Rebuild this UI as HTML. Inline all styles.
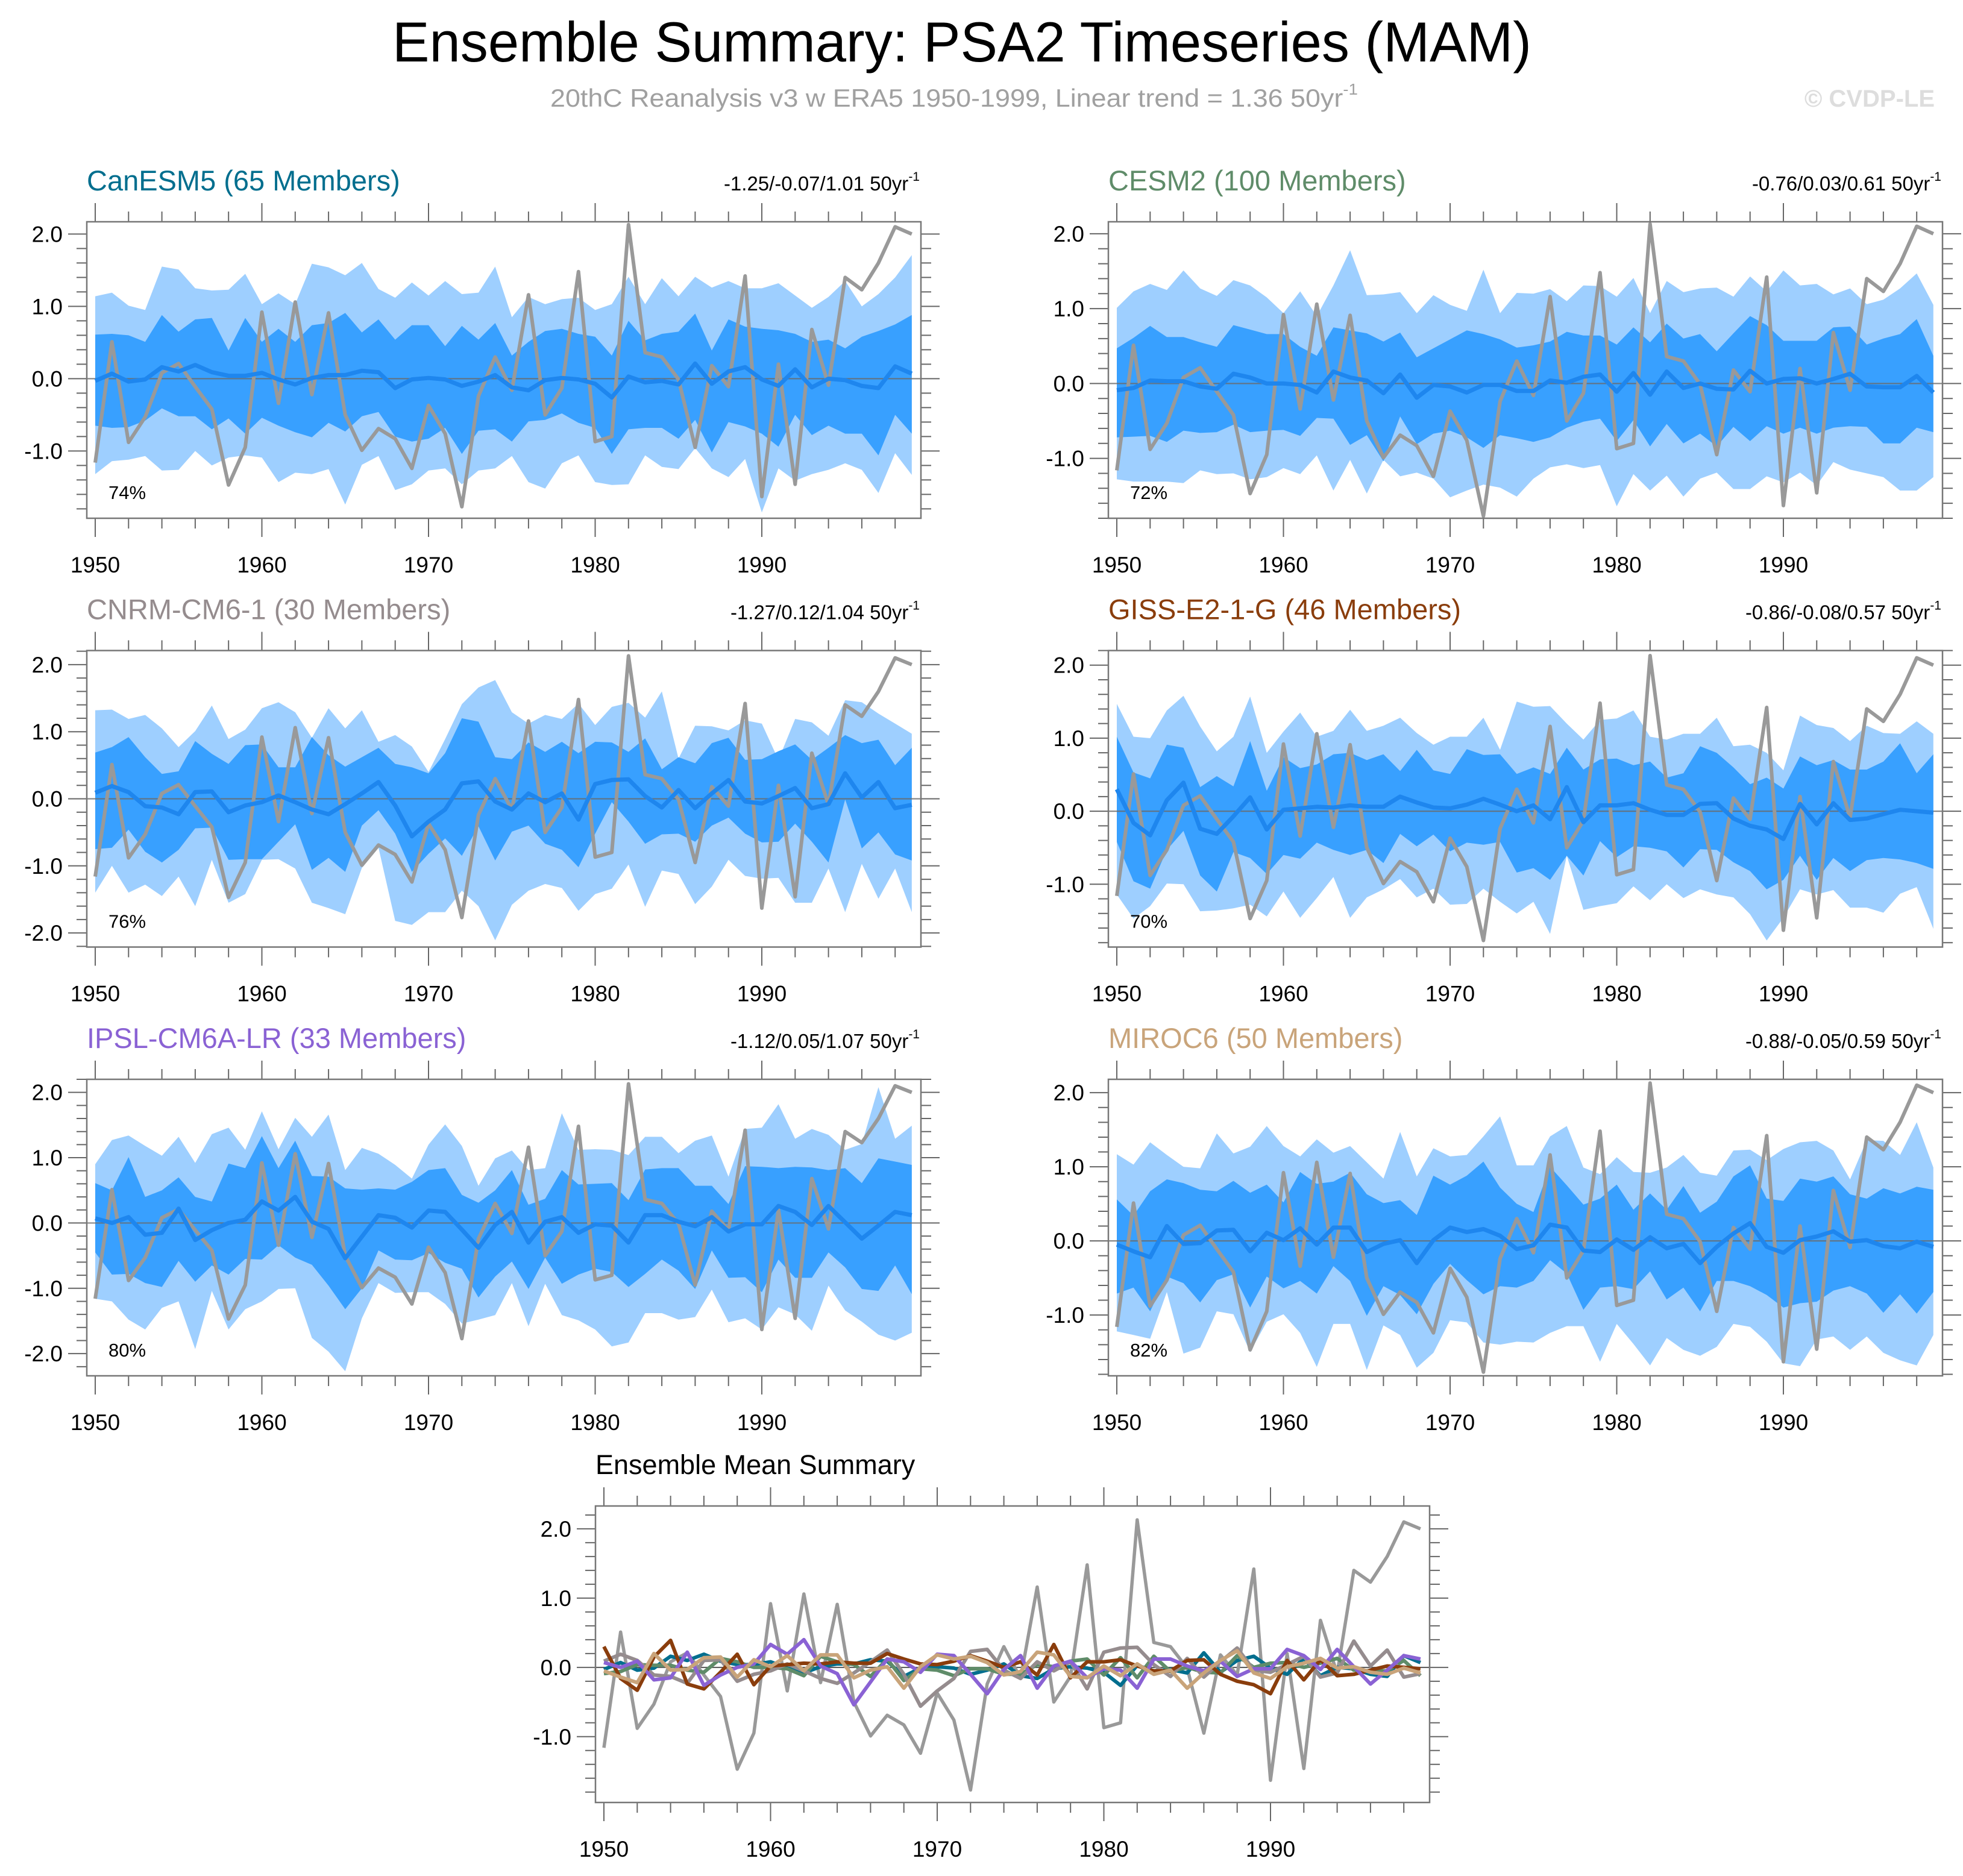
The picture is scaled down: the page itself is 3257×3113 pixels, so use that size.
<!DOCTYPE html>
<html><head><meta charset="utf-8"><title>Ensemble Summary: PSA2 Timeseries (MAM)</title>
<style>
html,body{margin:0;padding:0;background:#fff;}
svg{display:block;font-family:"Liberation Sans",Arial,sans-serif;}
</style></head>
<body>
<svg id="chart" xmlns="http://www.w3.org/2000/svg" width="3257" height="3113" viewBox="0 0 3257 3113">
<rect x="0" y="0" width="3257" height="3113" fill="#fff"/>
<text x="1596" y="102" font-size="94" text-anchor="middle" textLength="1890" lengthAdjust="spacingAndGlyphs" fill="#000">Ensemble Summary: PSA2 Timeseries (MAM)</text>
<text x="913" y="177" font-size="42" fill="#a0a0a0" textLength="1340" lengthAdjust="spacingAndGlyphs">20thC Reanalysis v3 w ERA5 1950-1999, Linear trend = 1.36 50yr<tspan font-size="26" dy="-20">-1</tspan></text>
<text x="3210" y="177" font-size="40" font-weight="bold" fill="#dddddd" text-anchor="end">© CVDP-LE</text>
<g id="panels"></g>
</svg>
<script>
const years = Array.from({length:50},(_, i)=>1950+i);
const obs = [-1.16,0.51,-0.88,-0.53,0.08,0.21,-0.11,-0.42,-1.47,-0.95,0.92,-0.34,1.06,-0.22,0.91,-0.50,-0.99,-0.69,-0.83,-1.24,-0.37,-0.76,-1.77,-0.24,0.30,-0.16,1.16,-0.50,-0.13,1.48,-0.87,-0.80,2.13,0.36,0.30,-0.01,-0.95,0.18,-0.11,1.42,-1.63,0.20,-1.46,0.68,-0.09,1.40,1.23,1.60,2.10,2.00];

// CanESM5
const canHi90 = [1.14,1.19,1.01,0.95,1.55,1.51,1.25,1.22,1.23,1.45,1.03,1.18,1.03,1.59,1.54,1.43,1.60,1.24,1.12,1.33,1.15,1.35,1.17,1.19,1.55,0.85,1.13,1.03,1.10,1.12,0.95,1.03,1.41,1.03,1.39,1.14,1.41,1.26,1.35,1.25,1.25,1.32,1.15,0.98,1.13,1.35,1.00,1.17,1.40,1.71];
const canHi75 = [0.61,0.62,0.60,0.51,0.88,0.65,0.82,0.84,0.39,0.84,0.51,0.69,0.51,0.74,0.77,0.91,0.64,0.82,0.54,0.74,0.74,0.45,0.73,0.54,0.77,0.32,0.51,0.66,0.69,0.62,0.58,0.32,0.80,0.53,0.62,0.65,0.90,0.39,0.82,0.72,0.69,0.67,0.62,0.51,0.54,0.42,0.58,0.66,0.75,0.88];
const canMean = [-0.03,0.07,-0.04,-0.01,0.16,0.10,0.19,0.09,0.04,0.04,0.08,-0.01,-0.08,0.01,0.05,0.05,0.11,0.09,-0.13,-0.01,0.01,-0.01,-0.10,-0.04,0.05,-0.12,-0.16,-0.02,0.01,-0.01,-0.07,-0.26,0.03,-0.05,-0.03,-0.08,0.21,-0.07,0.10,0.16,-0.01,-0.10,0.13,-0.12,0.00,-0.02,-0.10,-0.13,0.17,0.07];
const canLo25 = [-0.65,-0.68,-0.67,-0.58,-0.41,-0.52,-0.52,-0.70,-0.55,-0.76,-0.54,-0.65,-0.74,-0.81,-0.61,-0.73,-0.52,-0.46,-0.80,-0.87,-0.83,-0.68,-1.04,-0.72,-0.70,-0.87,-0.59,-0.57,-0.48,-0.61,-0.68,-1.04,-0.70,-0.68,-0.68,-0.83,-0.57,-1.02,-0.60,-0.66,-0.76,-0.94,-0.50,-0.78,-0.65,-0.76,-0.76,-1.06,-0.50,-0.76];
const canLo10 = [-1.32,-1.14,-1.12,-1.07,-1.27,-1.26,-1.00,-1.20,-1.09,-1.06,-1.09,-1.43,-1.30,-1.32,-1.25,-1.74,-1.19,-1.07,-1.54,-1.46,-1.27,-1.24,-1.46,-1.27,-1.24,-1.07,-1.43,-1.52,-1.17,-1.06,-1.43,-1.47,-1.46,-1.06,-1.22,-1.25,-0.96,-1.24,-1.36,-1.11,-1.85,-1.24,-1.41,-1.32,-1.26,-1.17,-1.26,-1.58,-1.03,-1.33];

// CESM2
const cesmHi90 = [1.01,1.23,1.33,1.25,1.51,1.27,1.17,1.38,1.31,1.15,0.94,1.23,0.90,1.31,1.78,1.18,1.19,1.22,0.94,1.18,1.05,0.97,1.52,0.94,1.21,1.20,1.26,1.10,1.31,1.30,1.16,1.41,0.94,1.37,1.22,1.27,1.28,1.16,1.43,1.23,1.51,1.31,1.33,1.19,1.27,1.06,1.12,1.27,1.47,1.05];
const cesmHi75 = [0.47,0.61,0.77,0.62,0.62,0.55,0.49,0.78,0.72,0.66,0.66,0.49,0.37,0.75,0.71,0.67,0.56,0.68,0.35,0.47,0.59,0.71,0.66,0.59,0.48,0.51,0.56,0.69,0.64,0.64,0.52,0.75,0.55,0.80,0.60,0.66,0.43,0.67,0.90,0.78,0.57,0.57,0.57,0.75,0.76,0.52,0.60,0.66,0.86,0.37];
const cesmMean = [-0.09,-0.06,0.04,0.03,0.03,-0.04,-0.07,0.13,0.08,0.00,0.00,-0.02,-0.12,0.16,0.08,0.04,-0.13,0.12,-0.19,-0.02,-0.04,-0.12,-0.02,-0.02,-0.10,-0.10,0.04,0.01,0.09,0.12,-0.11,0.14,-0.15,0.16,-0.06,0.00,-0.07,-0.08,0.17,0.00,0.06,0.07,0.00,0.06,0.13,-0.04,-0.05,-0.05,0.10,-0.12];
const cesmLo25 = [-0.72,-0.71,-0.70,-0.78,-0.63,-0.66,-0.65,-0.55,-0.65,-0.63,-0.62,-0.70,-0.46,-0.47,-0.82,-0.69,-1.04,-0.44,-0.81,-0.67,-0.63,-0.72,-0.86,-0.69,-0.73,-0.78,-0.72,-0.59,-0.51,-0.47,-0.77,-0.49,-0.84,-0.54,-0.80,-0.67,-0.84,-0.58,-0.77,-0.57,-0.67,-0.59,-0.67,-0.59,-0.57,-0.58,-0.80,-0.80,-0.59,-0.65];
const cesmLo10 = [-1.28,-1.31,-1.31,-1.31,-1.33,-1.16,-1.21,-1.20,-1.28,-1.25,-1.13,-1.21,-0.96,-1.43,-1.02,-1.47,-1.02,-1.24,-1.19,-1.27,-1.52,-1.43,-1.35,-1.39,-1.51,-1.27,-1.12,-1.08,-1.13,-1.09,-1.64,-1.21,-1.43,-1.23,-1.51,-1.27,-1.19,-1.41,-1.41,-1.24,-1.32,-1.19,-1.36,-1.05,-1.15,-1.20,-1.25,-1.43,-1.43,-1.25];

// CNRM-CM6-1
const cnrmHi90 = [1.32,1.33,1.19,1.25,1.05,0.77,1.01,1.39,0.89,1.03,1.35,1.44,1.29,0.91,1.35,1.05,1.32,0.85,0.95,0.78,0.40,0.89,1.41,1.66,1.77,1.29,1.12,1.25,1.19,1.42,1.10,1.37,1.43,1.21,1.60,0.60,1.09,1.08,1.02,1.17,1.12,0.58,1.19,1.14,0.94,1.47,1.44,1.27,1.12,0.97];
const cnrmHi75 = [0.69,0.77,0.92,0.62,0.37,0.41,0.86,0.67,0.52,0.80,0.81,0.47,0.47,0.92,0.65,0.48,0.62,0.76,0.52,0.47,0.38,0.68,1.20,1.15,0.62,0.59,0.84,0.70,0.85,0.68,0.85,0.84,0.70,0.90,0.44,0.62,0.53,0.83,0.91,0.58,0.59,0.71,0.81,0.58,0.76,0.95,0.83,0.88,0.50,0.76];
const cnrmMean = [0.09,0.19,0.10,-0.11,-0.13,-0.23,0.10,0.11,-0.20,-0.10,-0.05,0.05,-0.05,-0.16,-0.23,-0.08,0.08,0.25,-0.10,-0.56,-0.34,-0.16,0.23,0.26,-0.04,-0.16,0.08,-0.05,0.08,-0.31,0.22,0.28,0.29,0.04,-0.13,0.13,-0.14,0.08,0.28,-0.04,-0.07,0.04,0.16,-0.14,-0.08,0.38,0.02,0.25,-0.14,-0.09];
const cnrmLo25 = [-0.75,-0.73,-0.46,-0.79,-0.95,-0.76,-0.44,-0.43,-0.91,-0.90,-0.90,-0.64,-0.38,-1.06,-0.88,-1.09,-0.40,-0.17,-0.52,-1.09,-0.82,-0.59,-0.85,-0.41,-0.92,-0.49,-0.40,-0.67,-0.76,-1.02,-0.52,-0.05,-0.34,-0.67,-0.53,-0.52,-0.64,-0.40,-0.28,-0.52,-0.65,-0.64,-0.37,-0.64,-0.95,-0.01,-0.74,-0.50,-0.83,-0.92];
const cnrmLo10 = [-1.40,-1.00,-1.40,-1.28,-1.45,-1.16,-1.60,-0.91,-1.55,-1.42,-0.91,-0.90,-1.04,-1.55,-1.63,-1.72,-1.03,-0.73,-1.82,-1.88,-1.69,-1.69,-1.37,-1.60,-2.11,-1.58,-1.37,-1.27,-1.33,-1.67,-1.42,-1.34,-0.98,-1.61,-1.07,-1.12,-1.57,-1.31,-0.91,-1.15,-1.19,-1.18,-1.55,-1.55,-1.04,-1.69,-0.97,-1.49,-1.04,-1.69];

// GISS-E2-1-G
const gissHi90 = [1.47,1.02,1.00,1.38,1.58,1.16,0.82,1.02,1.57,0.80,1.09,1.35,1.02,1.10,1.39,1.10,1.17,1.28,1.07,0.91,1.02,1.02,1.28,0.84,1.50,1.43,1.44,1.20,0.98,1.25,1.27,1.38,1.02,0.98,1.06,1.06,1.28,0.89,0.91,0.80,0.56,1.31,1.18,1.14,0.96,1.17,1.07,1.06,1.23,1.06];
const gissHi75 = [1.02,0.53,0.45,0.91,0.87,0.33,0.48,0.34,0.96,0.28,0.74,0.59,0.64,0.78,0.80,0.70,0.78,0.55,0.84,0.56,0.51,0.85,0.77,0.78,0.51,0.60,0.51,0.87,0.57,0.71,0.72,0.63,0.68,0.46,0.52,0.89,0.80,0.60,0.37,0.46,0.31,0.75,0.63,0.70,0.57,0.57,0.68,0.93,0.52,0.78];
const gissMean = [0.30,-0.16,-0.33,0.15,0.39,-0.24,-0.31,-0.07,0.19,-0.25,0.02,0.04,0.06,0.05,0.08,0.06,0.06,0.20,0.12,0.05,0.04,0.09,0.17,0.09,0.00,0.08,-0.11,0.33,-0.15,0.08,0.08,0.11,0.02,-0.05,-0.05,0.10,0.11,-0.10,-0.20,-0.25,-0.38,0.10,-0.18,0.11,-0.12,-0.10,-0.04,0.02,0.00,-0.02];
const gissLo25 = [-0.42,-0.96,-1.06,-0.53,-0.27,-0.88,-1.10,-0.56,-0.64,-0.86,-0.60,-0.65,-0.43,-0.53,-0.60,-0.53,-0.71,-0.31,-0.48,-0.32,-0.55,-0.43,-0.46,-0.42,-0.84,-0.78,-0.94,-0.61,-0.88,-0.41,-0.63,-0.48,-0.50,-0.55,-0.77,-0.52,-0.53,-0.70,-0.82,-1.07,-0.94,-0.61,-0.94,-0.64,-0.82,-0.67,-0.64,-0.66,-0.71,-0.79];
const gissLo10 = [-1.14,-1.47,-1.30,-0.99,-1.00,-1.37,-1.36,-1.33,-1.28,-1.44,-1.10,-1.46,-1.19,-0.90,-1.46,-1.18,-1.07,-0.93,-1.18,-1.06,-1.28,-1.27,-1.06,-1.24,-1.40,-1.24,-1.68,-0.61,-1.35,-1.30,-1.26,-1.03,-1.22,-1.00,-1.19,-1.07,-1.14,-1.18,-1.41,-1.77,-1.46,-1.07,-1.14,-1.08,-1.32,-1.32,-1.39,-1.13,-1.04,-1.61];

// IPSL-CM6A-LR
const ipslHi90 = [0.90,1.27,1.34,1.18,1.03,1.32,0.92,1.36,1.46,1.12,1.71,1.13,1.61,1.32,1.66,0.81,1.15,1.06,0.89,0.68,1.20,1.51,1.18,0.57,0.99,1.11,0.81,0.84,1.68,1.12,1.13,1.12,1.04,1.32,1.32,1.07,1.26,1.34,0.71,1.44,1.46,1.82,1.29,1.44,1.35,1.12,1.21,2.08,1.29,1.49];
const ipslHi75 = [0.61,0.50,1.01,0.40,0.50,0.70,0.40,0.33,0.91,0.84,1.33,0.84,1.26,0.72,0.71,0.53,0.51,0.53,0.51,0.63,0.81,0.84,0.43,0.31,0.50,0.81,0.28,0.37,0.81,0.59,0.60,0.61,0.35,0.82,0.84,0.84,0.57,0.57,0.29,0.87,0.86,0.84,0.86,0.85,0.81,0.84,0.61,0.99,0.94,0.89];
const ipslMean = [0.07,0.00,0.09,-0.18,-0.15,0.22,-0.26,-0.11,0.00,0.05,0.33,0.19,0.40,0.02,-0.09,-0.54,-0.21,0.12,0.08,-0.07,0.19,0.17,-0.10,-0.38,-0.03,0.17,-0.30,0.02,0.09,-0.15,-0.02,-0.04,-0.30,0.12,0.12,0.02,-0.05,0.09,-0.13,-0.02,-0.02,0.26,0.17,-0.03,0.26,0.01,-0.24,-0.04,0.17,0.12];
const ipslLo25 = [-0.45,-0.79,-0.78,-0.92,-0.98,-0.58,-0.90,-0.65,-0.79,-0.55,-0.56,-0.34,-0.53,-0.64,-0.96,-1.32,-1.00,-0.42,-0.56,-0.57,-0.46,-0.61,-0.70,-1.14,-0.82,-0.59,-1.01,-0.53,-0.93,-0.79,-0.70,-0.75,-0.98,-0.78,-0.56,-0.73,-1.01,-0.42,-0.84,-0.83,-1.06,-0.56,-0.84,-0.84,-0.45,-0.68,-1.01,-1.04,-0.65,-1.09];
const ipslLo10 = [-1.16,-1.20,-1.48,-1.63,-1.30,-1.20,-1.93,-1.04,-1.63,-1.32,-1.20,-1.01,-1.00,-1.76,-1.97,-2.27,-1.46,-0.92,-1.07,-1.06,-1.06,-1.24,-1.54,-1.48,-1.41,-0.92,-1.58,-0.93,-1.41,-1.49,-1.63,-1.89,-1.83,-1.38,-1.38,-1.48,-1.44,-1.02,-1.52,-1.46,-1.63,-1.29,-1.40,-1.65,-0.96,-1.34,-1.51,-1.71,-1.80,-1.68];

// MIROC6
const mirocHi90 = [1.17,1.03,1.33,1.16,1.00,0.98,1.45,1.18,1.27,1.55,1.28,1.14,1.37,1.19,1.28,1.06,0.84,1.47,0.87,1.25,1.14,1.16,1.41,1.68,1.02,1.02,1.41,1.55,0.99,0.90,1.13,0.93,0.92,0.99,1.16,0.92,0.88,1.22,1.23,1.09,1.24,1.33,1.35,1.22,0.83,1.36,1.35,1.16,1.60,0.99];
const mirocHi75 = [0.56,0.34,0.67,0.83,0.78,0.69,0.67,0.81,0.65,0.76,0.52,0.93,0.77,0.80,0.92,0.63,0.51,0.55,0.35,0.88,0.76,0.88,1.07,0.72,0.50,0.39,1.00,0.75,0.49,0.57,0.76,0.42,0.64,0.42,0.74,0.38,0.53,0.87,1.02,0.57,0.54,0.84,0.80,0.87,0.63,0.57,0.71,0.64,0.73,0.69];
const mirocMean = [-0.05,-0.14,-0.22,0.20,-0.04,-0.03,0.14,0.15,-0.14,0.11,0.01,0.17,-0.05,0.18,0.18,-0.15,-0.04,0.01,-0.30,0.01,0.18,0.12,0.16,0.07,-0.11,-0.06,0.22,0.18,-0.13,-0.15,0.02,-0.12,0.05,-0.10,-0.04,-0.30,-0.08,0.10,0.24,-0.08,-0.16,0.01,0.06,0.13,-0.01,0.01,-0.07,-0.10,-0.01,-0.08];
const mirocLo25 = [-0.71,-0.63,-0.95,-0.48,-0.57,-0.83,-0.53,-0.45,-0.90,-0.48,-0.64,-0.54,-0.71,-0.34,-0.54,-1.01,-0.61,-0.73,-0.99,-0.58,-0.31,-0.53,-0.72,-0.61,-0.63,-0.54,-0.26,-0.44,-0.93,-0.63,-0.61,-0.65,-0.41,-0.79,-0.63,-0.95,-0.54,-0.54,-0.61,-0.73,-0.90,-0.84,-0.82,-0.67,-0.61,-0.71,-0.97,-0.72,-0.98,-0.69];
const mirocLo10 = [-1.22,-1.27,-1.32,-0.69,-1.52,-1.44,-0.95,-0.99,-1.50,-1.09,-0.99,-1.24,-1.70,-1.12,-1.12,-1.74,-1.14,-1.27,-1.71,-1.51,-1.07,-1.10,-1.37,-1.40,-1.36,-1.37,-1.24,-1.15,-1.15,-1.63,-1.12,-1.39,-1.68,-1.31,-1.47,-1.55,-1.43,-1.12,-1.16,-1.36,-1.65,-1.69,-1.33,-1.29,-1.47,-1.29,-1.51,-1.61,-1.68,-1.27];

const modelNames = ["CanESM5 (65 Members)","CESM2 (100 Members)","CNRM-CM6-1 (30 Members)","GISS-E2-1-G (46 Members)","IPSL-CM6A-LR (33 Members)","MIROC6 (50 Members)"];
const trendLabels = ["-1.25/-0.07/1.01 50yr","-0.76/0.03/0.61 50yr","-1.27/0.12/1.04 50yr","-0.86/-0.08/0.57 50yr","-1.12/0.05/1.07 50yr","-0.88/-0.05/0.59 50yr"];
const pctLabels = ["74%","72%","76%","70%","80%","82%"];
const modelColors = ["#006e8e","#5f8c69","#958c8e","#8a3d0c","#8a62d4","#c9a47a"];
const yRanges = [[-1.93,2.17],[-1.80,2.16],[-2.21,2.21],[-1.86,2.2],[-2.34,2.2],[-1.82,2.18]];
const summaryRange = [-1.95,2.33];

const SVGNS = "http://www.w3.org/2000/svg";
const root = document.getElementById("panels");
function mk(tag, attrs, parent){
  const e = document.createElementNS(SVGNS, tag);
  for (const k in attrs) e.setAttribute(k, attrs[k]);
  (parent||root).appendChild(e);
  return e;
}
const BW = 1384, BH = 492, XOFF = 14, YSTEP = 27.65;

function makeAxes(g, x0, y0, ymin, ymax){
  const xs = yr => x0 + XOFF + (yr-1950)*YSTEP;
  const ys = v => y0 + (ymax - v)/(ymax - ymin)*BH;
  return {xs, ys};
}

function drawFrame(g, x0, y0, ymin, ymax, ax){
  for (let yr=1950; yr<=1998; yr+=2){
    const major = (yr%10===0);
    const L = major?31:17;
    const x = ax.xs(yr);
    const t1 = mk("line",{x1:x,x2:x,y1:y0,y2:y0-L,stroke:"#666","stroke-width":2},g);
    
    
    const t2 = mk("line",{x1:x,x2:x,y1:y0+BH,y2:y0+BH+L,stroke:"#666","stroke-width":2},g);
    
    
    if (major){
      const lb = mk("text",{x:x,y:y0+BH+90,"font-size":37,"text-anchor":"middle",fill:"#000"},g);
      
      
      lb.textContent = String(yr);
    }
  }
  const k0 = Math.ceil(ymin/0.2 - 1e-6), k1 = Math.floor(ymax/0.2 + 1e-6);
  for (let k=k0; k<=k1; k++){
    const v = k*0.2;
    const major = (k%5===0);
    const L = major?31:17;
    const y = ax.ys(v);
    const a = mk("line",{x1:x0,x2:x0-L,y1:y,y2:y,stroke:"#666","stroke-width":2},g);
    
    
    const b = mk("line",{x1:x0+BW,x2:x0+BW+L,y1:y,y2:y,stroke:"#666","stroke-width":2},g);
    
    
    if (major){
      const lb = mk("text",{x:x0-40,y:y+13,"font-size":37,"text-anchor":"end",fill:"#000"},g);
      
      
      lb.textContent = (k/5).toFixed(1);
    }
  }
  const fr = mk("rect",{x:x0,y:y0,width:BW,height:BH,fill:"none",stroke:"#777","stroke-width":2.5},g);
  
  
}

function linePath(arr, ax){
  return arr.map((v,i)=>(i?"L":"M")+ax.xs(years[i]).toFixed(1)+","+ax.ys(v).toFixed(1)).join(" ");
}
function bandPath(hi, lo, ax){
  let d = hi.map((v,i)=>(i?"L":"M")+ax.xs(years[i]).toFixed(1)+","+ax.ys(v).toFixed(1)).join(" ");
  for (let i=lo.length-1;i>=0;i--) d += " L"+ax.xs(years[i]).toFixed(1)+","+ax.ys(lo[i]).toFixed(1);
  return d+" Z";
}

const bands = [
  [canHi90,canHi75,canMean,canLo25,canLo10],
  [cesmHi90,cesmHi75,cesmMean,cesmLo25,cesmLo10],
  [cnrmHi90,cnrmHi75,cnrmMean,cnrmLo25,cnrmLo10],
  [gissHi90,gissHi75,gissMean,gissLo25,gissLo10],
  [ipslHi90,ipslHi75,ipslMean,ipslLo25,ipslLo10],
  [mirocHi90,mirocHi75,mirocMean,mirocLo25,mirocLo10]
];
const panelSlug = ["canesm5","cesm2","cnrm-cm6-1","giss-e2-1-g","ipsl-cm6a-lr","miroc6"];

for (let p=0;p<6;p++){
  const col = p%2, row = Math.floor(p/2);
  const x0 = 144 + col*1695, y0 = 368 + row*711.5;
  const [ymin,ymax] = yRanges[p];
  const g = mk("g",{});
  
  
  const ax = makeAxes(g,x0,y0,ymin,ymax);
  const [h90,h75,mn,l25,l10] = bands[p];
  const b1 = mk("path",{d:bandPath(h90,l10,ax),fill:"#9ecfff",stroke:"none"},g);
  
  
  const b2 = mk("path",{d:bandPath(h75,l25,ax),fill:"#38a0ff",stroke:"none"},g);
  
  
  const z = mk("line",{x1:x0,x2:x0+BW,y1:ax.ys(0),y2:ax.ys(0),stroke:"#6a6a6a","stroke-width":2.2,"stroke-opacity":0.8},g);
  
  
  const ol = mk("path",{d:linePath(obs,ax),fill:"none",stroke:"#999","stroke-width":6,"stroke-linejoin":"round"},g);
  
  
  const ml = mk("path",{d:linePath(mn,ax),fill:"none",stroke:"#1e86ee","stroke-width":7,"stroke-linejoin":"round"},g);
  
  
  drawFrame(g,x0,y0,ymin,ymax,ax);
  const tt = mk("text",{x:x0,y:y0-52,"font-size":47,fill:modelColors[p]},g);
  
  
  tt.textContent = modelNames[p];
  const tr = mk("text",{x:x0+BW-2,y:y0-52,"font-size":33,"text-anchor":"end",fill:"#000"},g);
  
  
  tr.textContent = trendLabels[p];
  const sup = mk("tspan",{"font-size":21,dy:-16},tr);
  
  
  sup.textContent = "-1";
  const pc = mk("text",{x:x0+36,y:y0+BH-32,"font-size":31,fill:"#000"},g);
  
  
  pc.textContent = pctLabels[p];
}

(function(){
  const x0 = 988, y0 = 2499;
  const [ymin,ymax] = summaryRange;
  const g = mk("g",{});
  
  
  const ax = makeAxes(g,x0,y0,ymin,ymax);
  const z = mk("line",{x1:x0,x2:x0+BW,y1:ax.ys(0),y2:ax.ys(0),stroke:"#555","stroke-width":2},g);
  
  
  const ol = mk("path",{d:linePath(obs,ax),fill:"none",stroke:"#999","stroke-width":5.5,"stroke-linejoin":"round"},g);
  
  
  const means = [canMean,cesmMean,cnrmMean,gissMean,ipslMean,mirocMean];
  for (let p=0;p<6;p++){
    const l = mk("path",{d:linePath(means[p],ax),fill:"none",stroke:modelColors[p],"stroke-width":6,"stroke-linejoin":"round"},g);
    
    
  }
  drawFrame(g,x0,y0,ymin,ymax,ax);
  const tt = mk("text",{x:x0,y:2446,"font-size":45,fill:"#000"},g);
  
  
  tt.textContent = "Ensemble Mean Summary";
})();
</script>
</body></html>
